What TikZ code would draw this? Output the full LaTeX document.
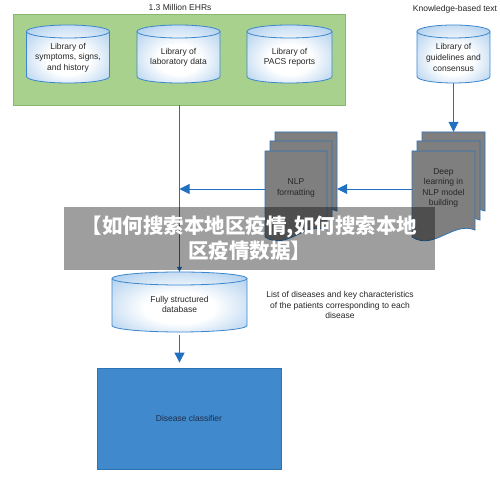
\documentclass[tikz,border=0pt]{standalone}
\usepackage{fontspec}
\setmainfont{Liberation Sans}
\newfontfamily\cjk{Noto Sans CJK SC}
\usetikzlibrary{arrows.meta,calc}
\definecolor{gfill}{HTML}{A9D18E}
\definecolor{gline}{HTML}{86B96A}
\definecolor{cblue}{HTML}{8AB9E6}
\definecolor{cline}{HTML}{3A87CF}
\definecolor{docgray}{HTML}{7F7F7F}
\definecolor{docline}{HTML}{2E75B6}
\definecolor{arr}{HTML}{2270C0}
\definecolor{clsfill}{HTML}{4089CC}
\definecolor{clsline}{HTML}{2E74B5}
\definecolor{clstext}{HTML}{1E2D4A}
\pgfdeclareradialshading{cylsh}{\pgfpoint{0bp}{-6bp}}{color(0bp)=(white); color(13bp)=(white); color(44bp)=(cblue); color(60bp)=(cblue)}
\newcommand\dbcyl[7]{%
  \pgfmathsetmacro\cT{#3-6.5}\pgfmathsetmacro\cB{#4+6.5}%
  \path[cylbody] (#2-#5,\cT) -- (#2-#5,\cB) arc[start angle=180,end angle=360,x radius=#5,y radius=6.5] -- (#2+#5,\cT) arc[start angle=0,end angle=180,x radius=#5,y radius=6.5] -- cycle;
  \draw[cylrim] (#2-#5,\cT) arc[start angle=180,end angle=360,x radius=#5,y radius=6.5];
  \node[inner sep=0, minimum width=2*#5, minimum height=#3-#4] (#1) at (#2,{(#3+#4)/2}) {};
  \node[lbl] (#1-t) at ([yshift=#7]#1.center) {#6};
}
\newcommand\docsheet[3]{%
  \path[docsheetstyle] (#1,#2) -- (#1+#3,#2) -- (#1+#3,#2-79) .. controls (#1+0.65*#3,#2-70) and (#1+0.35*#3,#2-100) .. (#1,#2-86) -- cycle;
}
\begin{document}
\begin{tikzpicture}[x=1pt,y=1pt,
  font=\fontsize{8.5}{10.6}\selectfont,
  lbl/.style={align=center, inner sep=0, text=black!85},
  cylbody/.style={draw=cline, line width=0.8pt, shading=cylsh},
  cylrim/.style={draw=cline, line width=0.8pt},
  docsheetstyle/.style={draw=docline, line width=0.8pt, fill=docgray},
  bigarrow/.style={draw=arr, line width=0.9pt, -{Triangle[length=10pt,width=10pt]}},
  smallarrow/.style={draw=arr, line width=0.7pt, -{Triangle[length=5pt,width=5pt]}}]
\useasboundingbox (0,0) rectangle (500,478);
\fill[white] (0,0) rectangle (500,478);

% EHR group
\node[lbl] (ehrtitle) at (180,471) {1.3 Million EHRs};
\node[draw=gline, fill=gfill, line width=0.8pt, inner sep=0, minimum width=332, minimum height=91] (ehr) at (179,418.5) {};
\dbcyl{lib1}{68}{453}{395}{41.5}{Library of\\symptoms, signs,\\and history}{-3.5}
\dbcyl{lib2}{178.5}{453}{395}{41.5}{Library of\\laboratory data}{-3.5}
\dbcyl{lib3}{289.5}{453}{395}{42.5}{Library of\\PACS reports}{-3.5}

% knowledge
\node[lbl] (kbtitle) at (455,469) {Knowledge-based text};
\dbcyl{lib4}{453.5}{453}{395}{36.5}{Library of\\guidelines and\\consensus}{-3.5}

% document stacks
\docsheet{275}{346}{62}
\docsheet{270}{337}{62}
\docsheet{265}{327}{62}
\node[inner sep=0, minimum width=72, minimum height=114] (nlp) at (301,289) {};
\node[lbl] (nlp-t) at (296,290) {NLP\\formatting};

\docsheet{422}{346}{63}
\docsheet{417}{337}{63}
\docsheet{412}{327}{63}
\node[inner sep=0, minimum width=73, minimum height=114] (deep) at (448.5,289) {};
\node[lbl] (deep-t) at (443.5,290) {Deep\\learning in\\NLP model\\building};

% database
\dbcyl{db}{179.5}{206}{146}{67.5}{Fully structured\\database}{-2.5}
\node[lbl] (listtxt) at (340,173) {List of diseases and key characteristics\\of the patients corresponding to each\\disease};

% classifier
\node[draw=clsline, fill=clsfill, line width=0.8pt, inner sep=0, minimum width=184, minimum height=101, text=clstext] (cls) at (189,59.5) {Disease classifier};

% connectors
\draw[smallarrow] (ehr.south -| db.north) -- (db.north);
\draw[bigarrow] (lib4.south) -- (lib4.south |- deep.north);
\draw[bigarrow] (deep.west) -- (nlp.east);
\draw[bigarrow] (nlp.west) -- (nlp.west -| db.north);
\draw[bigarrow, shorten <=3pt, shorten >=5pt] (db.south) -- (db.south |- cls.north);

% banner
\node[fill=black, fill opacity=0.38, text opacity=1, text=white, inner sep=0, minimum width=371, minimum height=63, align=center, font=\cjk\bfseries\fontsize{20.5}{25}\selectfont] (banner) at (249.5,239.5) {【如何搜索本地区疫情,如何搜索本地\\区疫情数据】};
\end{tikzpicture}
\end{document}
